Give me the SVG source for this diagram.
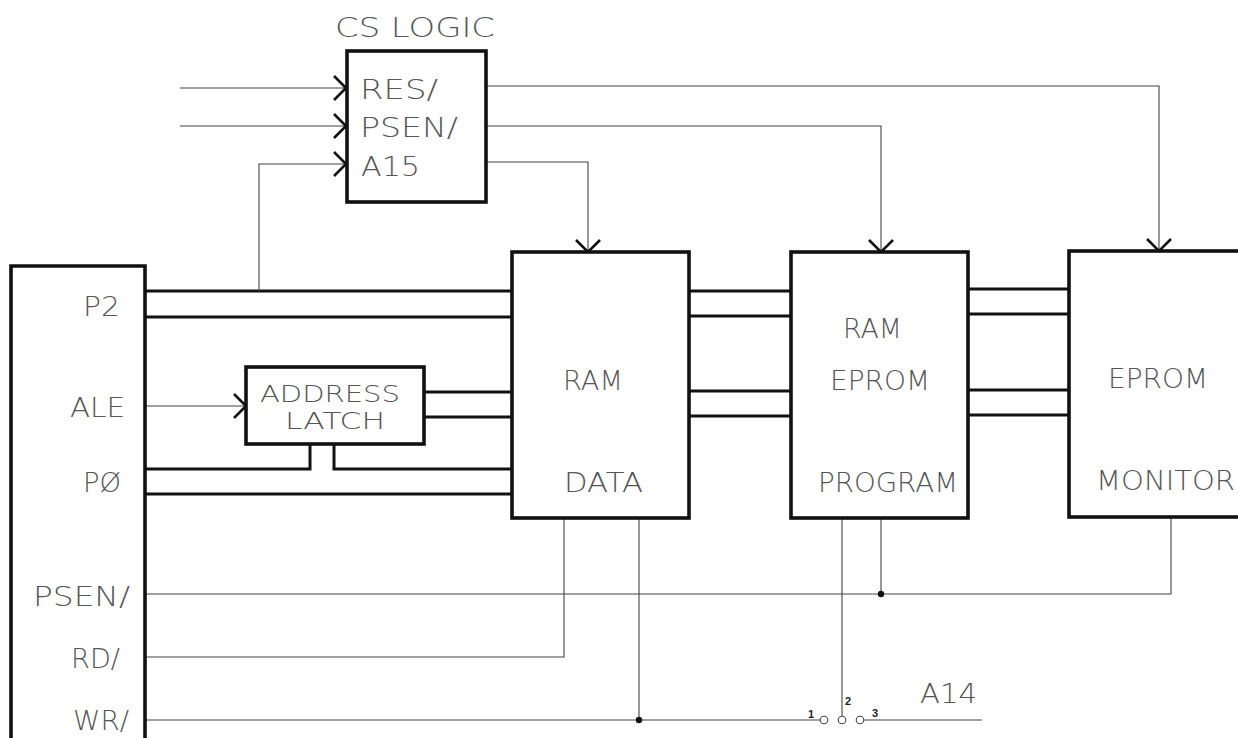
<svg xmlns="http://www.w3.org/2000/svg" width="1238" height="738" viewBox="0 0 1238 738">
<defs>
<marker id="arr" markerUnits="userSpaceOnUse" markerWidth="16" markerHeight="26" refX="14" refY="13" orient="auto" overflow="visible"><path d="M2 1L14 13L2 25" fill="none" stroke="#111" stroke-width="2.6"/></marker>
</defs>
<style>
.box{fill:#fff;stroke:#111;stroke-width:3.6}
.bus{fill:none;stroke:#111;stroke-width:3}
.w{fill:none;stroke:#444;stroke-width:1.1}
text{font-family:"DejaVu Sans","Liberation Sans",Arial,sans-serif;font-size:26px;font-weight:200;fill:#555}
.sm{font-family:"Liberation Sans",Arial,sans-serif;font-size:11px;fill:#222;font-weight:700}
.lt{font-size:23px}
</style>
<rect width="1238" height="738" fill="#fff"/>
<g id="connectors">
<path class="bus" d="M145 291H512M145 317H512M424 392H512M424 417H512M145 469H310V444M334 444V469H512M145 494H512M689 291H791M689 316H791M689 391H791M689 416H791M968 289H1069M968 314H1069M968 390H1069M968 415H1069"/>
<path class="w" d="M180 88H346" marker-end="url(#arr)"/>
<path class="w" d="M180 126H346" marker-end="url(#arr)"/>
<path class="w" d="M259 291V164H346" marker-end="url(#arr)"/>
<path class="w" d="M486 86H1159V251" marker-end="url(#arr)"/>
<path class="w" d="M486 126H881V252" marker-end="url(#arr)"/>
<path class="w" d="M486 162H588V252" marker-end="url(#arr)"/>
<path class="w" d="M145 406H246" marker-end="url(#arr)"/>
<path class="w" d="M145 594H1171V518M881 518V594M145 657H564V518M145 720H820M639 518V720M842 518V716M863 720H982"/>
<circle cx="881" cy="594" r="3.2" fill="#111"/>
<circle cx="639" cy="720" r="3.2" fill="#111"/>
<circle class="w" cx="824" cy="720" r="3.8"/>
<circle class="w" cx="842" cy="720" r="3.8"/>
<circle class="w" cx="860" cy="720" r="3.8"/>
</g>
<g id="cs-logic">
<rect class="box" x="347" y="51" width="139" height="151"/>
<text x="335" y="37" textLength="160" lengthAdjust="spacingAndGlyphs">CS LOGIC</text>
<text x="360" y="99" textLength="78" lengthAdjust="spacingAndGlyphs">RES/</text>
<text x="360" y="137" textLength="98" lengthAdjust="spacingAndGlyphs">PSEN/</text>
<text x="361" y="176" textLength="59" lengthAdjust="spacingAndGlyphs">A15</text>
</g>
<g id="cpu">
<path class="box" d="M145 738V266H11V738"/>
<text x="83" y="316" textLength="37" lengthAdjust="spacingAndGlyphs">P2</text>
<text x="70" y="417" textLength="55" lengthAdjust="spacingAndGlyphs">ALE</text>
<text x="83" y="492" textLength="38" lengthAdjust="spacingAndGlyphs">PØ</text>
<text x="33" y="606" textLength="97" lengthAdjust="spacingAndGlyphs">PSEN/</text>
<text x="71" y="668" textLength="49" lengthAdjust="spacingAndGlyphs">RD/</text>
<text x="73" y="730" textLength="56" lengthAdjust="spacingAndGlyphs">WR/</text>
</g>
<g id="address-latch">
<rect class="box" x="246" y="367" width="178" height="77"/>
<text class="lt" x="260" y="402" textLength="140" lengthAdjust="spacingAndGlyphs">ADDRESS</text>
<text class="lt" x="285" y="429" textLength="100" lengthAdjust="spacingAndGlyphs">LATCH</text>
</g>
<g id="ram-data">
<rect class="box" x="512" y="252" width="177" height="266"/>
<text x="563" y="390" textLength="60" lengthAdjust="spacingAndGlyphs">RAM</text>
<text x="564" y="492" textLength="79" lengthAdjust="spacingAndGlyphs">DATA</text>
</g>
<g id="ram-eprom-program">
<rect class="box" x="791" y="252" width="177" height="266"/>
<text x="843" y="338" textLength="59" lengthAdjust="spacingAndGlyphs">RAM</text>
<text x="830" y="390" textLength="100" lengthAdjust="spacingAndGlyphs">EPROM</text>
<text x="818" y="492" textLength="140" lengthAdjust="spacingAndGlyphs">PROGRAM</text>
</g>
<g id="eprom-monitor">
<rect class="box" x="1069" y="251" width="175" height="266"/>
<text x="1108" y="388" textLength="100" lengthAdjust="spacingAndGlyphs">EPROM</text>
<text x="1096" y="490" textLength="139" lengthAdjust="spacingAndGlyphs">MONITOR</text>
</g>
<g id="switch-labels">
<text class="sm" x="808" y="718">1</text>
<text class="sm" x="845" y="705">2</text>
<text class="sm" x="872" y="717">3</text>
<text x="920" y="703" textLength="57" lengthAdjust="spacingAndGlyphs">A14</text>
</g>
</svg>
